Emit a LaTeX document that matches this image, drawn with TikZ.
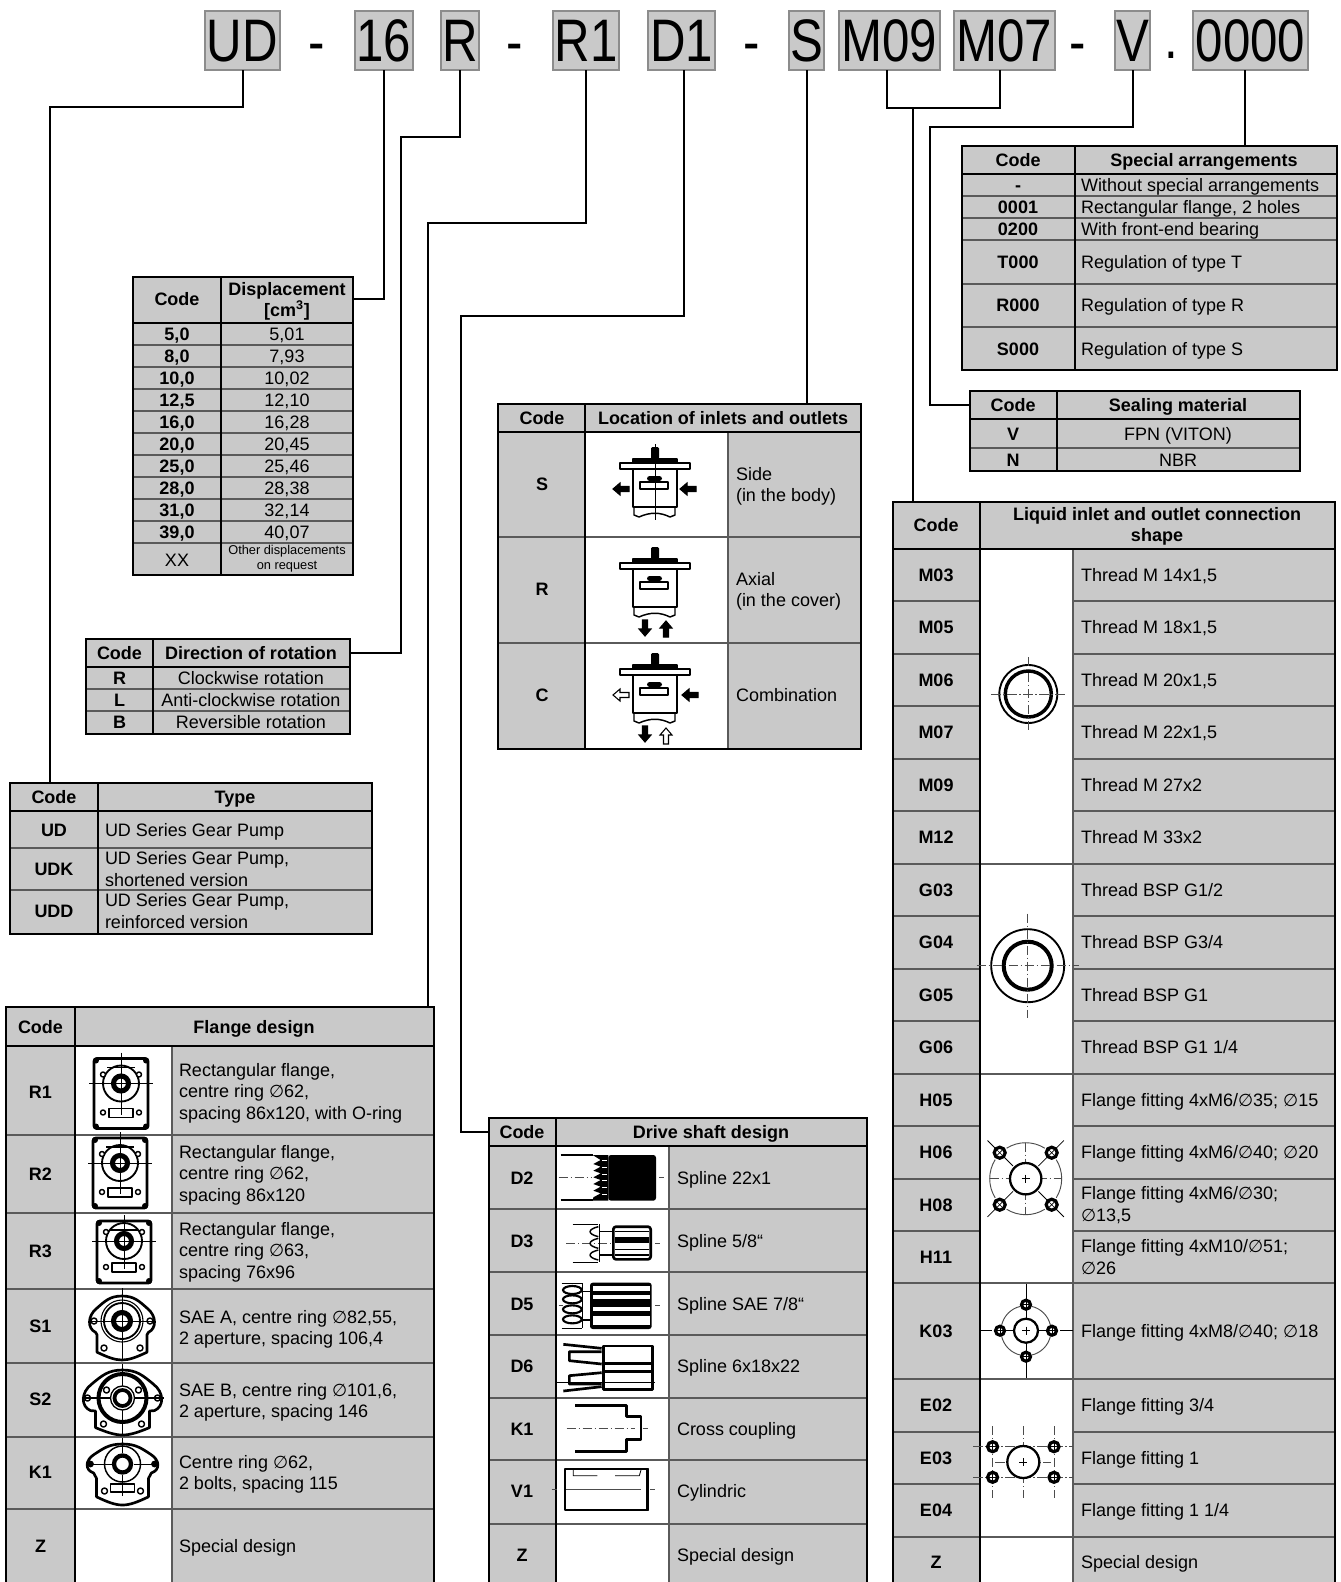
\documentclass[tikz,border=0pt]{standalone}
\usepackage{fontspec}
\setmainfont{Liberation Sans}
\newfontfamily\condfont[FakeStretch=0.82]{Liberation Sans}
\newfontfamily\symfont{DejaVu Sans}
\usetikzlibrary{fit,calc}
\definecolor{tableGrey}{HTML}{C9C9C9}
\definecolor{ruleGrey}{HTML}{5A5A5A}
\newcommand{\dia}{{\symfont\fontsize{13}{16}\selectfont ∅}}
\tikzset{
  icon/.style={line width=1.1pt, line join=round},
  iconfat/.style={line width=2pt, line join=round},
  axisline/.style={line width=0.5pt, black!70, dash pattern=on 7pt off 2pt on 1pt off 2pt},
  pics/pumpbody/.style={code={
    \fill[rounded corners=1pt] (-4,-19) rectangle (4,-7);
    \draw[icon,fill=black] (-22,-7) rectangle (22,-3);
    \draw[icon,fill=white] (-35,-3) rectangle (35,3);
    \draw[iconfat,fill=white] (-22,3) rectangle (22,41);
    \fill[rounded corners=2pt] (-8,10) rectangle (7,15);
    \draw[icon,fill=white] (-15,16) rectangle (13,23);
    \draw[icon] (-21,41) -- (-21,49) -- (-16,51) .. controls (-5,46) and (5,46) .. (15,51) -- (20,49) -- (20,41);
  }},
  pics/blockarrow/.style={code={
    \draw[line width=0.8pt,fill=#1] (0,0) -- (7,-6) -- (7,-2.5) -- (16,-2.5) -- (16,2.5) -- (7,2.5) -- (7,6) -- cycle;
  }},
  pics/rectflange/.style 2 args={code={
    \draw[iconfat,rounded corners=2pt] (-27,#1) rectangle (27,#2);
    \foreach \cx in {-25,25}{
      \fill (\cx,{#1+2}) circle (3);
      \fill (\cx,{#2-2}) circle (3);
    }
    \draw[icon] (-14,{#1+9}) -- (14,{#1+9});
    \draw[line width=1.4pt] (0,0) circle (18);
    \draw[line width=3.8pt] (0,0) circle (7.5);
    \draw[icon,fill=white] (-12,{#2-20}) rectangle (12,{#2-11});
    \foreach \cx in {-18,18}{
      \draw[icon,fill=white] (\cx,-9) circle (2.5);
      \draw[icon,fill=white] (\cx,{#2-16}) circle (2.5);
    }
    \draw[line width=0.4pt] (-32,0) -- (32,0) (0,{#1-6}) -- (0,{#2-14});
  }},
  pics/earflange/.style n args={4}{code={
    \draw[iconfat] (0,#2) .. controls ({-0.35*#1},#2) and ({-0.5*#1},{0.8*#2}) .. ({-0.75*#1},{0.5*#2})
      .. controls ({-1.02*#1},{0.2*#2}) and ({-1.02*#1},{-0.3*#2}) .. ({-0.78*#1},{-0.45*#2})
      -- (-#4,{0.35*#3}) -- (-#4,{0.8*#3}) .. controls ({-0.6*#4},{0.92*#3}) and ({-0.3*#4},#3) .. (0,#3)
      .. controls ({0.3*#4},#3) and ({0.6*#4},{0.92*#3}) .. (#4,{0.8*#3}) -- (#4,{0.35*#3})
      -- ({0.78*#1},{-0.45*#2}) .. controls ({1.02*#1},{-0.3*#2}) and ({1.02*#1},{0.2*#2}) .. ({0.75*#1},{0.5*#2})
      .. controls ({0.5*#1},{0.8*#2}) and ({0.35*#1},#2) .. cycle;
  }},
  pics/smallhole/.style={code={
    \draw[icon,fill=white] (0,0) circle (3);
  }},
  pics/boltcross/.style={code={
    \draw[line width=2.4pt,fill=white] (0,0) circle (#1);
    \draw[line width=0.5pt] (-#1,0) -- (#1,0) (0,-#1) -- (0,#1);
  }},
  pics/boltex/.style={code={
    \draw[line width=2.4pt,fill=white] (0,0) circle (#1);
    \draw[line width=0.5pt] (45:#1) -- (225:#1) (135:#1) -- (315:#1);
  }}
}
\begin{document}
\begin{tikzpicture}[x=0.75pt, y=-0.75pt,
    every node/.style={font=\fontsize{13.5}{16}\selectfont, inner sep=0pt, outer sep=0pt},
    tblbox/.style={fill=tableGrey},
    tblline/.style={line width=2.1pt, line cap=rect},
    rowline/.style={line width=0.8pt, ruleGrey},
    wire/.style={line width=1.5pt},
    topbox/.style={fill=tableGrey, draw=black!45, line width=0.8pt},
    toptext/.style={font=\condfont\fontsize{45}{45}\selectfont, text height=32pt, text depth=0pt},
    sepmark/.style={font=\condfont\fontsize{45}{45}\selectfont},
    codecell/.style={font=\fontsize{13.5}{16}\selectfont\bfseries, text height=9.7pt, text depth=0.2pt},
    headcell/.style={font=\fontsize{13.5}{16}\selectfont\bfseries, text height=9.7pt, text depth=0.2pt},
    headcelltwo/.style={font=\fontsize{13.5}{16}\selectfont\bfseries, align=center, yshift=-1pt},
    txtcell/.style={anchor=west, text height=9.7pt, text depth=0.2pt},
    txtcelltwo/.style={anchor=west, align=left, yshift=-0.8pt},
    midcell/.style={text height=9.7pt, text depth=0.2pt}]
  \clip (0,0) rectangle (1341,1582);
  % code boxes along the top
  \foreach \nm/\lbl/\xa/\xb in {UD/UD/205/280,Sz/16/355/413,Rot/R/441/479,Ro/R1/553/619,Do/D1/648/715,Lc/S/789/824,Ma/M09/839/940,Mb/M07/954/1055,Vt/V/1115/1150,Sp/0000/1193/1308}{
    \node[topbox, fit={(\xa,11) (\xb,70)}] (box\nm) {};
    \node[toptext] (text\nm) at (box\nm.center) {\lbl};
  }
  \foreach \nm/\lbl/\x/\y in {a/-/317/53,b/-/515/53,c/-/752/53,d/-/1078/53,e/./1171/55}{
    \node[sepmark] (sep\nm) at (\x,\y) {\lbl};
  }
  % table grounds
  \foreach \nm/\xa/\ya/\xb/\yb in {Disp/133/277/353/575,Dir/86/639/350/734,Type/10/783/372/934,Flange/6/1007/434/1600,Drive/489/1118/867/1600,Loc/498/404/861/749,Spec/962/146/1337/370,Seal/970/391/1300/471,Liq/893/502/1335/1600}{
    \node[tblbox, fit={(\xa,\ya) (\xb,\yb)}] (tbl\nm) {};
  }
  % picture columns
  \fill[white] (75,1046) rectangle (172,1600);
  \fill[white] (556,1146) rectangle (669,1600);
  \fill[white] (585,432) rectangle (728,749);
  \fill[white] (980,549) rectangle (1073,1600);
  % thin rules
  \foreach \y in {345,367,389,411,433,455,477,499,521,543} \draw[rowline] (133,\y) -- (353,\y);
  \foreach \y in {689,711} \draw[rowline] (86,\y) -- (350,\y);
  \foreach \y in {848,890} \draw[rowline] (10,\y) -- (372,\y);
  \foreach \y in {1135,1213,1289,1363,1437,1509} \draw[rowline] (6,\y) -- (434,\y);
  \draw[rowline] (172,1046) -- (172,1600);
  \foreach \y in {1209,1272,1335,1398,1460,1524} \draw[rowline] (489,\y) -- (867,\y);
  \draw[rowline] (669,1146) -- (669,1600);
  \foreach \y in {537,643} \draw[rowline] (498,\y) -- (861,\y);
  \draw[rowline] (728,432) -- (728,749);
  \foreach \y in {196,218,240,284,327} \draw[rowline] (962,\y) -- (1337,\y);
  \draw[rowline] (970,448) -- (1300,448);
  \foreach \y in {601,654,706,759,811,916,969,1021,1126,1179,1231,1432,1484} \draw[rowline] (893,\y) -- (980,\y) (1073,\y) -- (1335,\y);
  \foreach \y in {864,1074,1283,1379,1537} \draw[rowline] (893,\y) -- (1335,\y);
  \draw[rowline] (1073,549) -- (1073,1600);
  % frames, head rule and code column
  \foreach \nm/\xa/\xc/\xb/\yc in {Disp/133/221/353/323,Dir/86/153/350/667,Type/10/98/372/811,Flange/6/75/434/1046,Drive/489/556/867/1146,Loc/498/585/861/432,Spec/962/1075/1337/174,Seal/970/1057/1300/419,Liq/893/980/1335/549}{
    \draw[tblline] (tbl\nm.north west) rectangle (tbl\nm.south east);
    \draw[tblline] (\xc,0 |- tbl\nm.north) -- (\xc,0 |- tbl\nm.south);
    \draw[tblline] (\xa,\yc) -- (\xb,\yc);
  }
  % displacement
  \node[headcell] (dispHdr) at (177,299) {Code};
  \node[headcelltwo] (dispVol) at (287,300) {Displacement\\{}[cm\textsuperscript{3}]};
  \foreach \y/\c/\t in {334/{5,0}/{5,01},356/{8,0}/{7,93},378/{10,0}/{10,02},400/{12,5}/{12,10},422/{16,0}/{16,28},444/{20,0}/{20,45},466/{25,0}/{25,46},488/{28,0}/{28,38},510/{31,0}/{32,14},532/{39,0}/{40,07}}{
    \node[codecell] (dispCode\y) at (177,\y) {\c};
    \node[midcell] (dispVal\y) at (287,\y) {\t};
  }
  \node[midcell] (dispCodeXX) at (177,560) {XX};
  \node[font=\fontsize{9.6}{11}\selectfont, align=center] (dispValXX) at (287,559) {Other displacements\\on request};
  % direction of rotation
  \node[headcell] (dirHdr) at (119.5,653) {Code};
  \node[headcell] (dirName) at (251,653) {Direction of rotation};
  \foreach \y/\c/\t in {678/R/Clockwise rotation,700/L/Anti-clockwise rotation,722/B/Reversible rotation}{
    \node[codecell] (dirCode\y) at (119.5,\y) {\c};
    \node[midcell] (dirVal\y) at (251,\y) {\t};
  }
  % type
  \node[headcell] (typeHdr) at (54,797) {Code};
  \node[headcell] (typeName) at (235,797) {Type};
  \node[codecell] (typeCodeA) at (54,830) {UD};
  \node[codecell] (typeCodeB) at (54,869) {UDK};
  \node[codecell] (typeCodeC) at (54,911) {UDD};
  \node[txtcell] (typeValA) at (105,830) {UD Series Gear Pump};
  \node[txtcelltwo] (typeValB) at (105,868) {UD Series Gear Pump,\\shortened version};
  \node[txtcelltwo] (typeValC) at (105,910) {UD Series Gear Pump,\\reinforced version};
  % flange design
  \node[headcell] (flangeHdr) at (40.5,1027) {Code};
  \node[headcell] (flangeName) at (254,1027) {Flange design};
  \foreach \y/\c in {1092/R1,1174/R2,1251/R3,1326/S1,1399/S2,1472/K1,1546/Z}{
    \node[codecell] (flangeCode\y) at (40.5,\y) {\c};
  }
  \node[txtcelltwo] (flangeValA) at (179,1092) {Rectangular flange,\\centre ring \dia62,\\spacing 86x120, with O-ring};
  \node[txtcelltwo] (flangeValB) at (179,1174) {Rectangular flange,\\centre ring \dia62,\\spacing 86x120};
  \node[txtcelltwo] (flangeValC) at (179,1251) {Rectangular flange,\\centre ring \dia63,\\spacing 76x96};
  \node[txtcelltwo] (flangeValD) at (179,1328) {SAE A, centre ring \dia82,55,\\2 aperture, spacing 106,4};
  \node[txtcelltwo] (flangeValE) at (179,1401) {SAE B, centre ring \dia101,6,\\2 aperture, spacing 146};
  \node[txtcelltwo] (flangeValF) at (179,1473) {Centre ring \dia62,\\2 bolts, spacing 115};
  \node[txtcell] (flangeValZ) at (179,1546) {Special design};
  % drive shaft design
  \node[headcell] (driveHdr) at (522,1132) {Code};
  \node[headcell] (driveName) at (711,1132) {Drive shaft design};
  \foreach \y/\c/\t in {1178/D2/Spline 22x1,1241/D3/{Spline 5/8“},1304/D5/{Spline SAE 7/8“},1366/D6/Spline 6x18x22,1429/K1/Cross coupling,1491/V1/Cylindric,1555/Z/Special design}{
    \node[codecell] (driveCode\y) at (522,\y) {\c};
    \node[txtcell] (driveVal\y) at (677,\y) {\t};
  }
  % location of inlets and outlets
  \node[headcell] (locHdr) at (542,418) {Code};
  \node[headcell] (locName) at (723,418) {Location of inlets and outlets};
  \node[codecell] (locCodeS) at (542,484) {S};
  \node[codecell] (locCodeR) at (542,589) {R};
  \node[codecell] (locCodeC) at (542,695) {C};
  \node[txtcelltwo] (locValS) at (736,485) {Side\\(in the body)};
  \node[txtcelltwo] (locValR) at (736,590) {Axial\\(in the cover)};
  \node[txtcell] (locValC) at (736,695) {Combination};
  % special arrangements
  \node[headcell] (specHdr) at (1018,160) {Code};
  \node[headcell] (specName) at (1204,160) {Special arrangements};
  \foreach \y/\c/\t in {185/-/Without special arrangements,207/0001/{Rectangular flange, 2 holes},229/0200/With front-end bearing,262/T000/Regulation of type T,305/R000/Regulation of type R,349/S000/Regulation of type S}{
    \node[codecell] (specCode\y) at (1018,\y) {\c};
    \node[txtcell] (specVal\y) at (1081,\y) {\t};
  }
  % sealing material
  \node[headcell] (sealHdr) at (1013,405) {Code};
  \node[headcell] (sealName) at (1178,405) {Sealing material};
  \node[codecell] (sealCodeV) at (1013,434) {V};
  \node[codecell] (sealCodeN) at (1013,460) {N};
  \node[midcell] (sealValV) at (1178,434) {FPN (VITON)};
  \node[midcell] (sealValN) at (1178,460) {NBR};
  % liquid connection
  \node[headcell] (liqHdr) at (936,525) {Code};
  \node[headcelltwo] (liqName) at (1157,525) {Liquid inlet and outlet connection\\shape};
  \foreach \y/\c/\t in {575/M03/{Thread M 14x1,5},627/M05/{Thread M 18x1,5},680/M06/{Thread M 20x1,5},732/M07/{Thread M 22x1,5},785/M09/Thread M 27x2,837/M12/Thread M 33x2,890/G03/{Thread BSP G1/2},942/G04/{Thread BSP G3/4},995/G05/Thread BSP G1,1047/G06/{Thread BSP G1 1/4},1100/H05/{Flange fitting 4xM6/\dia35; \dia15},1152/H06/{Flange fitting 4xM6/\dia40; \dia20},1331/K03/{Flange fitting 4xM8/\dia40; \dia18},1405/E02/{Flange fitting 3/4},1458/E03/Flange fitting 1,1510/E04/{Flange fitting 1 1/4},1562/Z/Special design}{
    \node[codecell] (liqCode\c) at (936,\y) {\c};
    \node[txtcell] (liqVal\c) at (1081,\y) {\t};
  }
  \node[codecell] (liqCodeH08) at (936,1205) {H08};
  \node[codecell] (liqCodeH11) at (936,1257) {H11};
  \node[txtcelltwo] (liqValH08) at (1081,1204) {Flange fitting 4xM6/\dia30;\\\dia13,5};
  \node[txtcelltwo] (liqValH11) at (1081,1256) {Flange fitting 4xM10/\dia51;\\\dia26};
  % connectors
  \coordinate (bendUD) at (50,107);
  \coordinate (bendDir) at (401,137);
  \coordinate (bendRo) at (428,223);
  \coordinate (bendDo) at (461,316);
  \coordinate (joinM) at (913,108);
  \coordinate (bendV) at (930,127);
  \draw[wire] (boxUD.south) |- (bendUD) -- (bendUD |- tblType.north);
  \draw[wire] (boxSz.south) |- (dispHdr -| tblDisp.east);
  \draw[wire] (boxRot.south) |- (bendDir) |- (dirHdr -| tblDir.east);
  \draw[wire] (boxRo.south) |- (bendRo) -- (bendRo |- tblFlange.north);
  \draw[wire] ([xshift=2pt]boxDo.south) |- (bendDo) |- (driveHdr -| tblDrive.west);
  \draw[wire] (boxLc.south) -- (boxLc.south |- tblLoc.north);
  \draw[wire] ([xshift=-2pt]boxMa.south) |- (joinM) -| ([xshift=-3.4pt]boxMb.south);
  \draw[wire] (joinM) -- (joinM |- tblLiq.north);
  \draw[wire] (boxVt.south) |- (bendV) |- (sealHdr -| tblSeal.west);
  \draw[wire] ([xshift=-4.5pt]boxSp.south) -- ([xshift=-4.5pt]boxSp.south |- tblSpec.north);
  % pump sketches
  \pic (pumpS) at (655,466) {pumpbody};
  \draw[line width=0.4pt] (655,444) -- (655,520);
  \pic (arrSa) at (613,489) {blockarrow=black};
  \pic (arrSb) at (680,489) {blockarrow=black};
  \pic (pumpR) at (655,566) {pumpbody};
  \pic[rotate=90] (arrRa) at (645,636) {blockarrow=black};
  \pic[rotate=-90] (arrRb) at (666,621) {blockarrow=black};
  \pic (pumpC) at (655,672) {pumpbody};
  \pic (arrCa) at (613,695) {blockarrow=white};
  \pic (arrCb) at (682,695) {blockarrow=black};
  \pic[rotate=90] (arrCc) at (645,742) {blockarrow=black};
  \pic[rotate=-90] (arrCd) at (666,728) {blockarrow=white};
  % flange sketches
  \pic (flangeR1) at (121,1083.5) {rectflange={-25}{45}};
  \pic (flangeR2) at (120,1163) {rectflange={-25}{45}};
  \pic (flangeR3) at (124,1241) {rectflange={-20}{42}};
  \begin{scope}[shift={(122,1321)}]
    \pic (earS1) {earflange={34}{-25}{39}{25}};
    \draw[line width=0.8pt] (0,0) circle (21);
    \draw[line width=1.4pt] (0,0) circle (18);
    \draw[line width=3.8pt] (0,0) circle (8.5);
    \foreach \cx in {-28,28}{ \pic (holeA\cx) at (\cx,0) {smallhole}; }
    \foreach \cx in {-18,18}{ \pic (holeB\cx) at (\cx,27) {smallhole}; }
    \draw[line width=0.4pt] (-34,0) -- (34,0) (0,-33) -- (0,40);
  \end{scope}
  \begin{scope}[shift={(122.5,1398)}]
    \pic (earS2) {earflange={41}{-28}{37}{27}};
    \draw[line width=3pt] (0,0) circle (24);
    \draw[line width=1pt] (0,0) circle (12);
    \draw[line width=2.8pt] (0,0) circle (8);
    \foreach \cx in {-35,35}{ \pic (holeC\cx) at (\cx,0) {smallhole}; }
    \foreach \cx in {-19,19}{ \pic (holeD\cx) at (\cx,26) {smallhole}; }
    \foreach \cx in {-16,16}{ \pic (holeE\cx) at (\cx,-8) {smallhole}; }
    \draw[line width=0.8pt] (-41,0) -- (-12,0) (12,0) -- (41,0) (0,-34) -- (0,-12) (0,12) -- (0,38);
  \end{scope}
  \begin{scope}[shift={(122.5,1464)}]
    \pic (earK1) {earflange={37}{-20}{41}{26}};
    \draw[icon] (0,0) circle (18);
    \draw[line width=3.2pt] (0,0) circle (8.5);
    \foreach \cx in {-32,32}{ \fill (\cx,0) circle (3.4); }
    \draw[icon,fill=white] (-12,20) rectangle (12,28);
    \foreach \cx in {-18,18}{ \pic (holeF\cx) at (\cx,27) {smallhole}; }
    \draw[line width=0.6pt] (-32,0) -- (-11,0) (11,0) -- (32,0) (0,-26) -- (0,-11) (0,11) -- (0,32);
  \end{scope}
  % shaft sketches, in 3x units
  \begin{scope}[shift={(480,1110)}, x=0.25pt, y=-0.25pt]
    \draw[axisline] (236,203) -- (335,203) (537,203) -- (552,203);
    \draw[axisline] (258,400) -- (400,400) (525,400) -- (540,400);
    \draw[axisline] (236,587) -- (250,587) (525,587) -- (540,587);
    \draw[axisline] (260,955) -- (465,955) (488,955) -- (503,955);
    % D2
    \draw[icon] (242,135) -- (338,135) (242,270) -- (338,270);
    \fill[rounded corners=2pt] (385,135) -- (528,135) -- (528,272) -- (385,272) -- cycle;
    \fill (385,135) -- (338,135) \foreach \i in {0,...,5}{ -- (362,{150+\i*20}) -- (340,{162+\i*20}) } -- (338,272) -- (385,272) -- cycle;
    \foreach \i in {0,...,5}{ \draw[white,line width=0.6pt] (366,{152+\i*20}) -- (380,{152+\i*20}); }
    % D3
    \draw[icon] (278,343) -- (355,343) (278,457) -- (355,457);
    \foreach \i in {0,1,2}{ \draw[icon] (355,{350+\i*35}) .. controls (322,{358+\i*35}) and (322,{372+\i*35}) .. (355,{380+\i*35}); }
    \draw[icon] (358,343) -- (358,457) (358,365) -- (400,365) (358,435) -- (400,435);
    \draw[iconfat,rounded corners=2pt] (400,350) rectangle (512,448);
    \fill (405,380) rectangle (508,398);
    \draw[icon] (405,365) -- (508,365) (405,418) -- (508,418) (405,435) -- (508,435);
    % D5
    \foreach \cy in {540,568,598,628}{ \draw[line width=1.6pt] (277,\cy) ellipse (28 and 12); }
    \draw[icon] (245,520) -- (305,520) (245,655) -- (305,655);
    \draw[icon] (308,520) -- (308,655) (308,545) -- (330,545) (308,630) -- (330,630);
    \fill[rounded corners=2pt] (330,518) rectangle (515,657);
    \foreach \ya/\yb in {528/542,554/568,592/603,618/645}{ \fill[white] (338,\ya) rectangle (510,\yb); }
    % D6
    \draw[iconfat] (370,708) rectangle (518,838);
    \draw[line width=2.6pt] (370,708) -- (370,838) (370,760) -- (518,760) (370,785) -- (518,785);
    \draw[iconfat] (250,703) -- (365,715) (250,843) -- (365,830);
    \draw[iconfat] (365,725) -- (268,725) -- (268,752) -- (365,762);
    \draw[iconfat] (365,788) -- (268,797) -- (268,822) -- (365,822);
    \draw[line width=0.5pt] (232,818) -- (525,818);
    % K1
    \draw[iconfat] (285,887) -- (440,887) -- (440,920) -- (483,920) -- (483,988) -- (440,988) -- (440,1025) -- (285,1025);
    % V1
    \draw[icon] (255,1077) rectangle (505,1200);
    \fill (497,1077) rectangle (506,1200);
    \draw[line width=0.6pt] (280,1080) -- (280,1097) -- (352,1097) (405,1097) -- (478,1097) -- (483,1080);
    \draw[line width=0.5pt, black!70] (215,1138) -- (232,1138) (258,1138) -- (482,1138) (510,1138) -- (525,1138);
  \end{scope}
  % port sketches
  \begin{scope}[shift={(1028.3,694)}]
    \draw[line width=1.4pt] (0,0) circle (29);
    \draw[line width=2.6pt] (0,0) circle (23);
    \draw[axisline] (-37,0) -- (37,0) (0,-37) -- (0,37);
  \end{scope}
  \begin{scope}[shift={(1027.7,965.7)}]
    \draw[line width=1.4pt] (0,0) circle (36.5);
    \draw[line width=3pt] (0,0) circle (24);
    \draw[axisline] (-51,0) -- (51,0) (0,-52) -- (0,52);
  \end{scope}
  \begin{scope}[shift={(1025.7,1178.7)}]
    \foreach \a in {0,90,180,270}{ \draw[line width=0.7pt, black!70] ({\a-32}:36) arc ({\a-32}:{\a+32}:36); }
    \foreach \a in {45,135,225,315}{ \draw[line width=0.6pt] (\a:18) -- (\a:30) (\a:42) -- (\a:54); }
    \draw[axisline] (-36,0) -- (36,0) (0,-36) -- (0,36);
    \draw[line width=1.7pt,fill=white] (0,0) circle (15.7);
    \draw[line width=0.5pt] (-4,0) -- (4,0) (0,-4) -- (0,4);
    \foreach \sx in {-26,26}{ \foreach \sy in {-26,26}{ \pic (boltH\sx\sy) at (\sx,\sy) {boltex=5.5}; } }
  \end{scope}
  \begin{scope}[shift={(1026,1330.7)}]
    \foreach \a in {45,135,225,315}{ \draw[line width=0.7pt, black!70] ({\a-32}:25) arc ({\a-32}:{\a+32}:25); }
    \draw[line width=0.7pt] (-47,0) -- (-34,0) (-20,0) -- (20,0) (34,0) -- (47,0) (0,-47) -- (0,47);
    \draw[line width=1.7pt,fill=white] (0,0) circle (12);
    \draw[line width=0.5pt] (-4,0) -- (4,0) (0,-4) -- (0,4);
    \foreach \a in {0,90,180,270}{ \pic (boltK\a) at (\a:26) {boltcross=4.5}; }
  \end{scope}
  \begin{scope}[shift={(1023.3,1462)}]
    \draw[axisline] (-50,-15.3) -- (50,-15.3) (-50,15.3) -- (50,15.3) (-30.7,-36) -- (-30.7,36) (30.7,-36) -- (30.7,36) (0,-36) -- (0,36) (-28,0) -- (28,0);
    \draw[line width=1.7pt,fill=white] (0,0) circle (16);
    \draw[line width=0.5pt] (-4,0) -- (4,0) (0,-4) -- (0,4);
    \foreach \sx in {-30.7,30.7}{ \foreach \sy in {-15.3,15.3}{ \pic (boltE\sx\sy) at (\sx,\sy) {boltcross=5}; } }
  \end{scope}
\end{tikzpicture}
\end{document}
